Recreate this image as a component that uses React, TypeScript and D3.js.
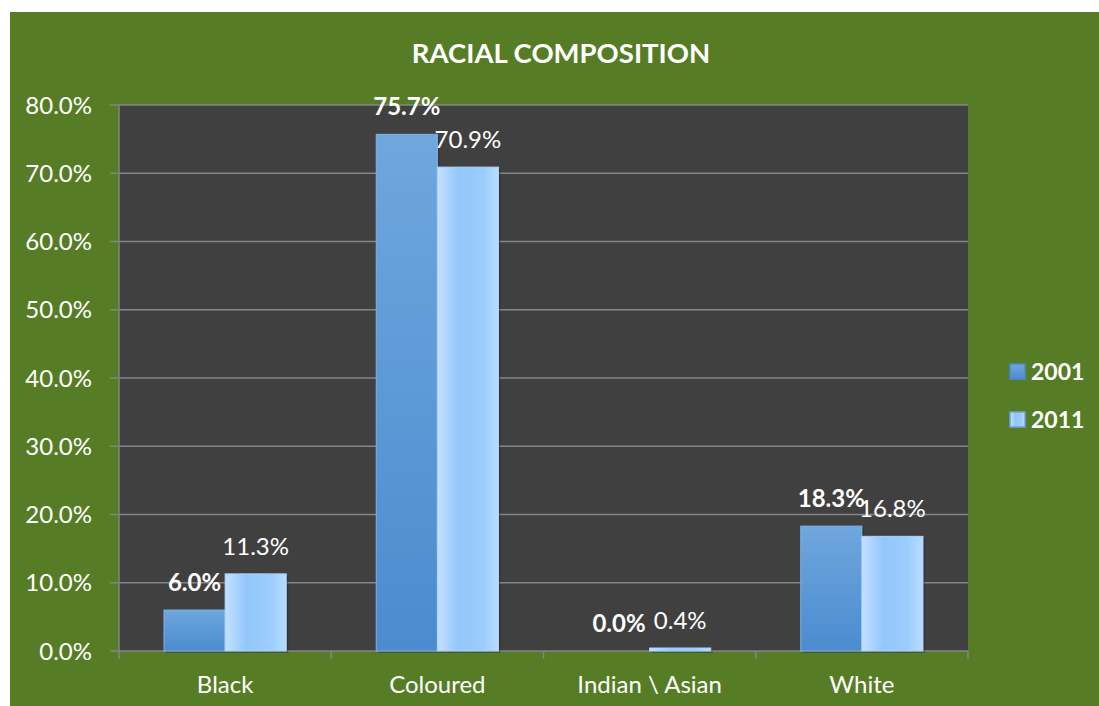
import React from "react";
import * as d3 from "d3";

const categories = ["Black", "Coloured", "Indian \\ Asian", "White"];
const series2001 = [6.0, 75.7, 0.0, 18.3];
const series2011 = [11.3, 70.9, 0.4, 16.8];
const seriesNames = ["2001", "2011"];
const yTicks = [0, 10, 20, 30, 40, 50, 60, 70, 80];

const W = 1099;
const H = 706;
const FONT = "Lato, 'Open Sans', 'Liberation Sans', sans-serif";

export default function App() {
  const left = 119, right = 968, top = 105, bottom = 651;
  const x = d3.scaleBand<string>().domain(categories).range([left, right]);
  const bw = x.bandwidth();
  const inner = d3.scaleBand<string>().domain(seriesNames).range([bw * 0.212, bw * 0.788]);
  const y = d3.scaleLinear().domain([0, 80]).range([bottom, top]);
  const data = [series2001, series2011];
  const fills = ["url(#g2001)", "url(#g2011)"];

  return (
    <svg width={W} height={H} style={{ position: "absolute", left: 0, top: 0 }}>
      <defs>
        <linearGradient id="g2001" x1="0" y1="0" x2="0" y2="1">
          <stop offset="0" stopColor="#6fa7de" />
          <stop offset="1" stopColor="#4b8bcf" />
        </linearGradient>
        <linearGradient id="g2011" x1="0" y1="0" x2="1" y2="0">
          <stop offset="0" stopColor="#c4e0ff" />
          <stop offset="0.35" stopColor="#93c7fb" />
          <stop offset="0.75" stopColor="#9ccdfc" />
          <stop offset="1" stopColor="#b9dcff" />
        </linearGradient>
      </defs>
      <rect x={10} y={12} width={W - 10} height={H - 12} fill="#567d25" />
      <text x={561} y={63} textAnchor="middle" fill="#fff" fontFamily={FONT} fontWeight="bold" fontSize={27.5}>
        RACIAL COMPOSITION
      </text>
      <rect x={left} y={top} width={right - left} height={bottom - top} fill="#404040" />
      {yTicks.map((t) => (
        <g key={t}>
          <line x1={left} x2={right} y1={y(t)} y2={y(t)} stroke="#858585" strokeWidth={1.5} />
          <line x1={110} x2={left} y1={y(t)} y2={y(t)} stroke="#858585" strokeWidth={1.5} />
          <text x={92} y={y(t) + 8.5} textAnchor="end" fill="#fff" fontFamily={FONT} fontSize={24}>
            {t.toFixed(1)}%
          </text>
        </g>
      ))}
      <line x1={left} x2={left} y1={top} y2={bottom + 8} stroke="#858585" strokeWidth={1.5} />
      {categories.map((c, i) => (
        <line key={"t" + i} x1={x(c)! + bw} x2={x(c)! + bw} y1={bottom} y2={bottom + 8} stroke="#858585" strokeWidth={1.5} />
      ))}
      {categories.map((c, i) =>
        data.map((s, si) => {
          const bx = x(c)! + inner(seriesNames[si])!;
          const by = y(s[i]);
          const h = Math.max(bottom - by, 0);
          return (
            <g key={c + si}>
              <rect x={bx + 2} y={by + 2} width={inner.bandwidth()} height={h} fill="#222" opacity={0.35} />
              <rect x={bx} y={h < 3 ? bottom - 3 : by} width={inner.bandwidth()} height={h < 3 ? (s[i] > 0 ? 3 : 0) : h} fill={fills[si]} stroke={si === 0 ? "#7eb2e6" : "#a9d4ff"} strokeWidth={1} />
            </g>
          );
        })
      )}
      {categories.map((c, i) =>
        data.map((s, si) => {
          const bx = x(c)! + inner(seriesNames[si])! + inner.bandwidth() / 2;
          const by = y(s[i]);
          return (
            <text key={"l" + c + si} x={bx} y={by - 19} textAnchor="middle" fill="#fff" fontFamily={FONT} fontSize={24} fontWeight={si === 0 ? "bold" : "normal"}>
              {s[i].toFixed(1)}%
            </text>
          );
        })
      )}
      {categories.map((c) => (
        <text key={"x" + c} x={x(c)! + bw / 2} y={693} textAnchor="middle" fill="#fff" fontFamily={FONT} fontSize={24}>
          {c}
        </text>
      ))}
      {seriesNames.map((n, i) => (
        <g key={n}>
          <rect x={1010} y={364 + i * 48} width={15} height={15} fill={fills[i]} stroke={i === 0 ? "#4b8bcf" : "#6aa3dd"} strokeWidth={1.5} />
          <text x={1031} y={380 + i * 48} fill="#fff" fontFamily={FONT} fontWeight="bold" fontSize={23}>
            {n}
          </text>
        </g>
      ))}
    </svg>
  );
}
